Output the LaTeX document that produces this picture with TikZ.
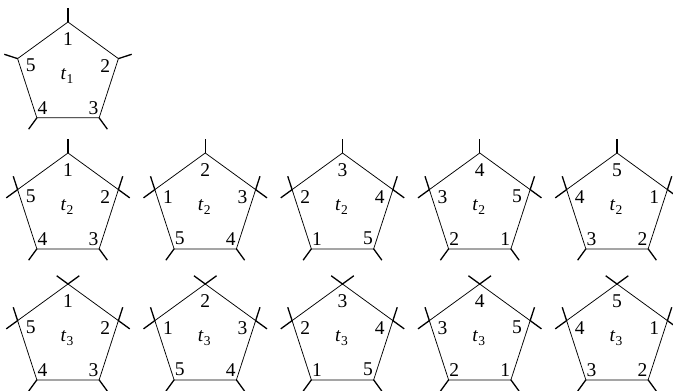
\documentclass[tikz,border=0pt]{standalone}
\usepackage{fontspec}
\setmainfont{Liberation Serif}
\usetikzlibrary{calc}
\newcommand\drawpent[7]{%
  % #1 name, #2 cx, #3 cy, #4 subscript, #5 top label, #6 top type, #7 side type
  \coordinate (#1c) at (#2,#3);
  \foreach \k in {1,...,5} {\coordinate (#1v\k) at ($(#1c)+({90-72*(\k-1)}:53)$);}
  \draw[edge] (#1v1)--(#1v2)--(#1v3)--(#1v4)--(#1v5)--cycle;
  \ifnum#6=1
    \draw[leg] ($(#1v1)!-14pt!(#1v5)$) -- (#1v1) -- ($(#1v1)!-14pt!(#1v2)$);
  \else
    \draw[leg] (#1v1) -- ($(#1v1)!-14pt!(#1c)$);
  \fi
  \ifnum#7=1
    \draw[leg] ($(#1v2)!-14pt!(#1v1)$) -- (#1v2) -- ($(#1v2)!-14pt!(#1v3)$);
    \draw[leg] ($(#1v5)!-14pt!(#1v1)$) -- (#1v5) -- ($(#1v5)!-14pt!(#1v4)$);
  \else
    \draw[leg] (#1v2) -- ($(#1v2)!-14pt!(#1c)$);
    \draw[leg] (#1v5) -- ($(#1v5)!-14pt!(#1c)$);
  \fi
  \draw[leg] (#1v3) -- ($(#1v3)!-14pt!(#1c)$);
  \draw[leg] (#1v4) -- ($(#1v4)!-14pt!(#1c)$);
  \foreach \k/\a/\r in {1/90/36, 2/14/38.5, 3/-52/41.5, 4/-128/41.5, 5/166/38.5} {
    \pgfmathtruncatemacro\lab{mod(#5+\k-2,5)+1}
    \node[lab] (#1l\k) at ($(#1c)+(\a:\r)$) {\lab};
  }
  \node[lab] (#1t) at ($(#1c)+(-1,-1)$) {\textit{t}\kern0.3pt\raisebox{-4pt}{\fontsize{13.5}{13.5}\selectfont #4}};
}
\begin{document}
\begin{tikzpicture}[x=1pt,y=1pt,
  edge/.style={line width=0.75pt},
  leg/.style={line width=1.3pt},
  lab/.style={font=\fontsize{19.5}{19.5}\selectfont, inner sep=0pt},
]
\useasboundingbox (0,0) rectangle (673,391);
\drawpent{a}{68}{316}{1}{1}{0}{0}
\foreach \col in {0,...,4} {
  \pgfmathsetmacro\cx{68+137.25*\col}
  \pgfmathtruncatemacro\first{\col+1}
  \drawpent{b\col}{\cx}{185}{2}{\first}{0}{1}
  \drawpent{d\col}{\cx}{54}{3}{\first}{1}{1}
}
\end{tikzpicture}
\end{document}
